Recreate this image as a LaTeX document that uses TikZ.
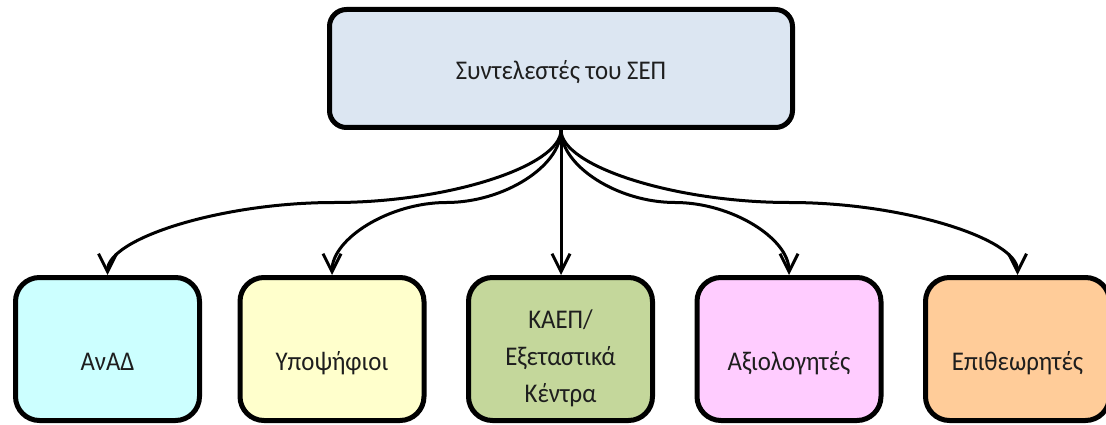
\documentclass[tikz,border=0pt]{standalone}
\usepackage{fontspec}
\setmainfont{Carlito}[FakeStretch=0.92]
\usetikzlibrary{arrows.meta,calc}
\definecolor{topfill}{HTML}{DCE6F2}
\definecolor{cyanfill}{HTML}{CCFFFF}
\definecolor{yelfill}{HTML}{FFFFCC}
\definecolor{grnfill}{HTML}{C4D79B}
\definecolor{pinkfill}{HTML}{FFCCFF}
\definecolor{orgfill}{HTML}{FFCC99}
\definecolor{txt}{HTML}{1E1E1E}
\tikzset{
  topbox/.style={draw=black, line width=5pt, rounded corners=17pt, fill=topfill,
    minimum width=463pt, minimum height=118pt, inner sep=0pt, text=txt,
    font=\fontsize{27}{37}\selectfont},
  leafbox/.style={draw=black, line width=5pt, rounded corners=24pt,
    minimum width=184pt, minimum height=143pt, inner sep=0pt, text=txt,
    align=center, font=\fontsize{27}{37}\selectfont},
  conn/.style={line width=3pt, -{Straight Barb[length=18pt,width=18pt]}},
}
\newcommand{\lowered}[2]{\raisebox{#1}[0pt][0pt]{#2}}
\newcommand{\curvedconn}[2]{%
  \coordinate (S) at (#1.south);
  \coordinate (E) at (#2.north);
  \coordinate (M) at ($(S)!0.5!(E)$);
  \draw[conn] (S) .. controls ($(S)!0.5!(S|-M)$) and ($(M)!0.5!(S|-M)$) .. (M)
     .. controls ($(M)!0.5!(E|-M)$) and ($(E)!0.5!(E|-M)$) .. (E);
}
\begin{document}
\begin{tikzpicture}[x=1pt,y=-1pt]
\useasboundingbox (0,0) rectangle (1106,425);
\node[topbox] (top) at (561,68.5) {\lowered{-11.5pt}{Συντελεστές του ΣΕΠ}};
\node[leafbox, fill=cyanfill] (b1) at (107.5,349) {\lowered{-21pt}{ΑνΑΔ}};
\node[leafbox, fill=yelfill] (b2) at (332,349) {\lowered{-21pt}{Υποψήφιοι}};
\node[leafbox, fill=grnfill] (b3) at (560.5,349) {\lowered{21pt}{\parbox[t]{180pt}{\centering ΚΑΕΠ/\\Εξεταστικά\\Κέντρα}}};
\node[leafbox, fill=pinkfill] (b4) at (789,349) {\lowered{-21pt}{Αξιολογητές}};
\node[leafbox, fill=orgfill] (b5) at (1017.5,349) {\lowered{-21pt}{Επιθεωρητές}};
\curvedconn{top}{b1}
\curvedconn{top}{b2}
\draw[conn] (top.south) -- (top.south|-b3.north);
\curvedconn{top}{b4}
\curvedconn{top}{b5}
\end{tikzpicture}
\end{document}
